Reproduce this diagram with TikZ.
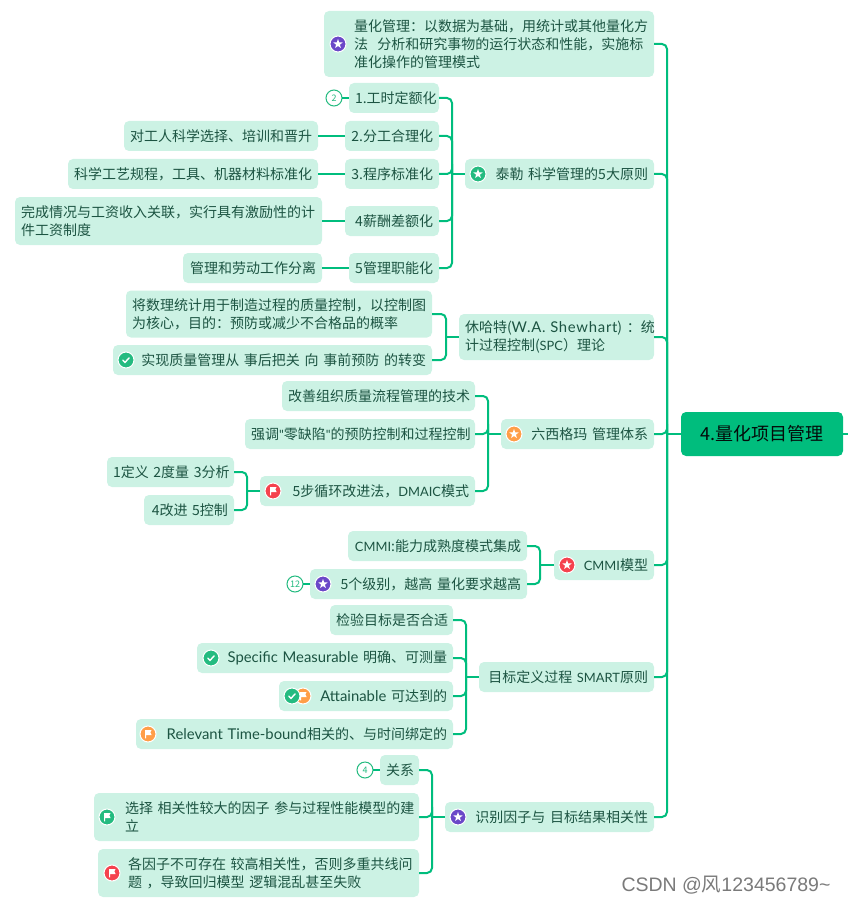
\documentclass[tikz,border=0pt]{standalone}
\usepackage{fontspec}
\setmainfont{Noto Sans CJK SC}
\newfontfamily\latinfont[Scale=1.06]{Lato}
\newfontfamily\widefont[Scale=1.06,LetterSpace=5]{Lato}
\newfontfamily\capsfont[Scale=0.92]{Lato}
\newfontfamily\stampfont{Liberation Sans}
\usepackage{xcolor}
\usepackage{tikz}
\usetikzlibrary{positioning}
\definecolor{qmgreen}{RGB}{0, 189, 125}
\definecolor{qmleaf}{RGB}{204, 242, 228}
\definecolor{qmink}{RGB}{28, 84, 66}
\definecolor{qmviolet}{RGB}{107, 72, 200}
\definecolor{qmemerald}{RGB}{36, 187, 128}
\definecolor{qmorange}{RGB}{255, 158, 72}
\definecolor{qmred}{RGB}{245, 66, 78}

\begin{document}
\begin{tikzpicture}[
    x=1pt, y=-1pt,
    leaf/.style={rectangle, rounded corners=5pt, fill=qmleaf, text=qmink, anchor=east, outer sep=0pt, inner xsep=6pt, inner ysep=0pt, minimum height=30pt, align=right, font=\fontsize{14pt}{18pt}\selectfont},
    lead/.style={align=left, execute at begin node={\leftskip=#1pt\relax}},
    under/.style 2 args={below=#2 of #1.south east, anchor=north east},
    main/.style={rectangle, rounded corners=5pt, fill=qmgreen, text=black!85!qmink, anchor=east, outer sep=0pt, minimum width=162pt, minimum height=44pt, font=\fontsize{18pt}{22pt}\selectfont},
    count/.style={circle, draw=qmemerald, line width=1pt, fill=white, text=qmemerald, minimum size=16pt, inner sep=0pt, outer sep=0pt, font=\fontsize{9pt}{10pt}\selectfont},
    link/.style={draw=qmgreen, line width=2pt, rounded corners=5pt},
    dot/.style={circle, draw=white, line width=1pt, fill=#1, minimum size=16pt, inner sep=0pt},
    staricon/.style={dot=#1, path picture={\fill[white, shift={(path picture bounding box.center)}] (0,-5) -- (1.2,-1.6) -- (4.7,-1.5) -- (1.9,.6) -- (2.9,4) -- (0,2) -- (-2.9,4) -- (-1.9,.6) -- (-4.7,-1.5) -- (-1.2,-1.6) -- cycle;}},
    checkicon/.style={dot=#1, path picture={\draw[white, line width=1.4pt, line cap=round, shift={(path picture bounding box.center)}] (-3.2,.2) -- (-1,2.4) -- (3.2,-2.2);}},
    flagicon/.style={dot=#1, path picture={\fill[white, shift={(path picture bounding box.center)}] (-3,-4) -- (3.6,-4) -- (2.4,-1.6) -- (3.6,1) -- (-1.8,1) -- (-1.8,4.4) -- (-3,4.4) -- cycle;}},
    stamp/.style={text=black!52, inner sep=0pt, font=\fontsize{19.5pt}{22pt}\selectfont}
]
    \useasboundingbox (0,0) rectangle (848,904);

    % root and the column of main branches
    \node[main] (root) at (843,434) {4.量化项目管理};
    \coordinate (rootout) at (848,434);
    \coordinate (trunk) at (667,434);

    \node[leaf, lead=24, text width=318pt, minimum height=66pt] (quant) at (654,44) {量化管理：以数据为基础，用统计或其他量化方\\法\ \ 分析和研究事物的运行状态和性能，实施标\\准化操作的管理模式};
    \node[leaf, text width=177pt] (taylor) at (654,174) {泰勒 科学管理的5大原则};
    \node[leaf, lead=0, text width=183pt, minimum height=46pt] (shewhart) at (654,337) {\mbox{休哈特({\widefont W.A. Shewhart}) ：统}\\计过程控制({\capsfont SPC}）理论};
    \node[leaf, text width=141pt] (sigma) at (654,434) {六西格玛 管理体系};
    \node[leaf, text width=88pt] (cmmi) at (654,565) {{\capsfont CMMI}模型};
    \node[leaf, text width=163pt] (smart) at (654,677) {目标定义过程~{\capsfont SMART}原则};
    \node[leaf, text width=197pt] (factor) at (654,817) {识别因子与 目标结果相关性};

    % taylor principles
    \node[leaf, text width=78pt] (timing) at (439,98) {1.工时定额化};
    \node[leaf, text width=82pt, under={timing}{8pt}] (labour) {2.分工合理化};
    \node[leaf, text width=82pt, under={labour}{8pt}] (routine) {3.程序标准化};
    \node[leaf, text width=82pt, under={routine}{17pt}] (salary) {4薪酬差额化};
    \node[leaf, text width=78pt, under={salary}{17pt}] (duty) {5管理职能化};
    \node[count, left=7pt of timing] (timingcount) {2};
    \node[leaf, text width=182pt, left=27pt of labour] (worker) {对工人科学选择、培训和晋升};
    \node[leaf, text width=238pt, left=27pt of routine] (craft) {科学工艺规程，工具、机器材料标准化};
    \node[leaf, lead=0, text width=295pt, minimum height=48pt, left=23pt of salary] (wage) {完成情况与工资收入关联，实行具有激励性的计\\件工资制度};
    \node[leaf, text width=127pt, left=27pt of duty] (split) {管理和劳动工作分离};

    % shewhart
    \node[leaf, lead=0, text width=294pt, minimum height=47pt] (stats) at (432,314) {将数理统计用于制造过程的质量控制，以控制图\\为核心，目的：预防或减少不合格品的概率};
    \node[leaf, text width=307pt] (prevent) at (432,360) {实现质量管理从 事后把关 向 事前预防 的转变};

    % six sigma
    \node[leaf, text width=181pt] (improve) at (475,396) {改善组织质量流程管理的技术};
    \node[leaf, text width=218pt, under={improve}{8pt}] (defect) {强调{\capsfont"}零缺陷{\capsfont"}的预防控制和过程控制};
    \node[leaf, text width=203pt] (dmaic) at (475,491) {5步循环改进法，{\capsfont DMAIC}模式};
    \node[leaf, text width=115pt] (define) at (234,472) {1定义~2度量~3分析};
    \node[leaf, text width=78pt, under={define}{8pt}] (control) {4改进 5控制};

    % cmmi
    \node[leaf, text width=167pt] (model) at (527,546) {{\capsfont CMMI}:能力成熟度模式集成};
    \node[leaf, text width=205pt, under={model}{8pt}] (level) {5个级别，越高 量化要求越高};
    \node[count, left=7pt of level] (levelcount) {12};

    % smart
    \node[leaf, text width=111pt] (goal) at (453,620) {检验目标是否合适};
    \node[leaf, text width=244pt, under={goal}{8pt}] (specific) {{\latinfont Specific Measurable} 明确、可测量};
    \node[leaf, text width=162pt, under={specific}{8pt}] (attain) {{\latinfont Attainable} 可达到的};
    \node[leaf, text width=305pt, under={attain}{8pt}] (relevant) {{\latinfont Relevant Time-bound}相关的、与时间绑定的};

    % factors
    \node[leaf, text width=27pt] (relation) at (419,770) {关系};
    \node[count, left=7pt of relation] (relationcount) {4};
    \node[leaf, lead=25, text width=313pt, minimum height=48pt, under={relation}{8pt}] (choose) {选择~相关性较大的因子~参与过程性能模型的建\\立};
    \node[leaf, lead=24, text width=309pt, minimum height=48pt, under={choose}{8pt}] (collinear) {各因子不可存在 较高相关性，否则多重共线问\\题 ，导致回归模型 逻辑混乱甚至失败};

    % icons
    \node[staricon=qmviolet] (quanticon) at (338,44) {};
    \node[staricon=qmemerald] (tayloricon) at (478,174) {};
    \node[staricon=qmorange] (sigmaicon) at (514,434) {};
    \node[staricon=qmred] (cmmiicon) at (567,565) {};
    \node[staricon=qmviolet] (factoricon) at (458,817) {};
    \node[checkicon=qmemerald] (preventicon) at (126,360) {};
    \node[flagicon=qmred] (dmaicicon) at (273,491) {};
    \node[staricon=qmviolet] (levelicon) at (323,584) {};
    \node[checkicon=qmemerald] (specificicon) at (211,658) {};
    \node[flagicon=qmorange] (attainflag) at (303,696) {};
    \node[checkicon=qmemerald] (attaincheck) at (292,696) {};
    \node[flagicon=qmorange] (relevanticon) at (148,734) {};
    \node[flagicon=qmemerald] (chooseicon) at (107,817) {};
    \node[flagicon=qmred] (collinearicon) at (112,873) {};

    \node[stamp] (watermark) at (726,885) {{\stampfont CSDN @}风{\stampfont 123456789\symbol{126}}};

    % bus points, one to the left of each parent
    \coordinate[left=13pt of taylor] (taylorbus);
    \coordinate[left=13pt of shewhart] (shewhartbus);
    \coordinate[left=13pt of sigma] (sigmabus);
    \coordinate[left=13pt of dmaic] (dmaicbus);
    \coordinate[left=14pt of cmmi] (cmmibus);
    \coordinate[left=13pt of smart] (smartbus);
    \coordinate[left=13pt of factor] (factorbus);

    \draw[link] (trunk) -- (root.west);
    \draw[link] (root.east) -- (rootout);
    \foreach \kid in {quant, taylor, shewhart, sigma, cmmi, smart, factor}
        \draw[link] (\kid.east) -| (trunk);

    \foreach \kid in {timing, labour, routine, salary, duty}
        \draw[link] (\kid.east) -| (taylorbus);
    \draw[link] (taylorbus) -- (taylor.west);
    \foreach \kid in {stats, prevent}
        \draw[link] (\kid.east) -| (shewhartbus);
    \draw[link] (shewhartbus) -- (shewhart.west);
    \foreach \kid in {improve, defect, dmaic}
        \draw[link] (\kid.east) -| (sigmabus);
    \draw[link] (sigmabus) -- (sigma.west);
    \foreach \kid in {define, control}
        \draw[link] (\kid.east) -| (dmaicbus);
    \draw[link] (dmaicbus) -- (dmaic.west);
    \foreach \kid in {model, level}
        \draw[link] (\kid.east) -| (cmmibus);
    \draw[link] (cmmibus) -- (cmmi.west);
    \foreach \kid in {goal, specific, attain, relevant}
        \draw[link] (\kid.east) -| (smartbus);
    \draw[link] (smartbus) -- (smart.west);
    \foreach \kid in {relation, choose, collinear}
        \draw[link] (\kid.east) -| (factorbus);
    \draw[link] (factorbus) -- (factor.west);

    \draw[link] (worker) -- (labour);
    \draw[link] (craft) -- (routine);
    \draw[link] (wage) -- (salary);
    \draw[link] (split) -- (duty);
    \draw[link] (timingcount) -- (timing);
    \draw[link] (levelcount) -- (level);
    \draw[link] (relationcount) -- (relation);

\end{tikzpicture}
\end{document}
